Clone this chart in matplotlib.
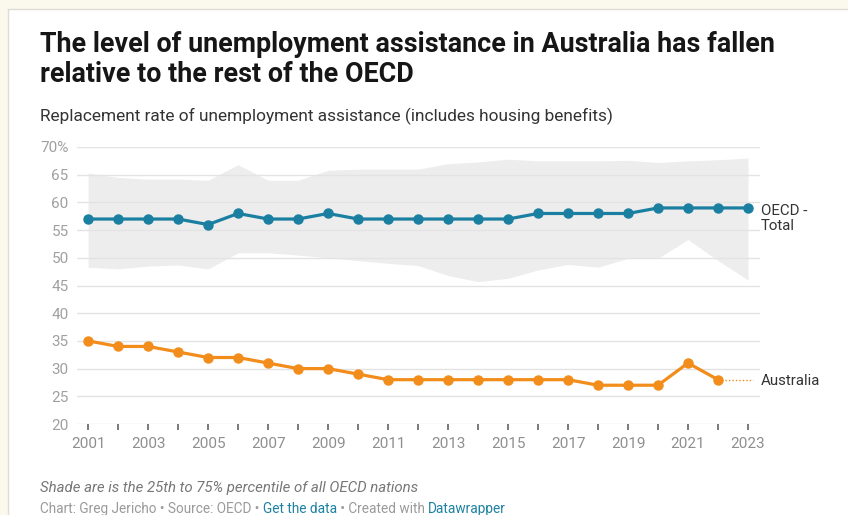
import matplotlib
matplotlib.use('Agg')
import matplotlib.pyplot as plt
from matplotlib.patches import Rectangle

plt.rcParams['font.family'] = ['Roboto', 'DejaVu Sans']

# data
years = list(range(2001, 2024))
oecd_total = [57, 57, 57, 57, 56, 58, 57, 57, 58, 57, 57, 57, 57, 57, 57, 58, 58, 58, 58, 59, 59, 59, 59]
band_low = [48.3, 48.0, 48.5, 48.7, 48.0, 50.9, 50.9, 50.5, 50.0, 49.5, 49.0, 48.6, 46.8, 45.7, 46.3, 47.8, 48.8, 48.3, 49.9, 49.9, 53.3, 49.5, 46.0]
band_high = [65.3, 64.5, 64.2, 64.2, 64.0, 66.8, 64.0, 64.0, 65.8, 66.0, 66.0, 66.0, 67.0, 67.3, 67.8, 67.5, 67.5, 67.5, 67.6, 67.2, 67.5, 67.7, 68.0]
aus_years = list(range(2001, 2023))
australia = [35, 34, 34, 33, 32, 32, 31, 30, 30, 29, 28, 28, 28, 28, 28, 28, 28, 27, 27, 27, 31, 28]
y_ticks = [20, 25, 30, 35, 40, 45, 50, 55, 60, 65, 70]
y_labels = ['20', '25', '30', '35', '40', '45', '50', '55', '60', '65', '70%']
x_labels = [str(y) if y % 2 == 1 else '' for y in years]

teal = '#1a7fa0'
orange = '#f28c1b'
W, H = 848, 515

fig = plt.figure(figsize=(W / 100, H / 100), dpi=100, facecolor='#fbf9ee')
# white card with light border
fig.patches.append(Rectangle((8 / W, -0.01), 1, 1.01 - 9 / H, transform=fig.transFigure,
                             facecolor='white', edgecolor='#dedcd4', linewidth=1, zorder=-5))

ax = fig.add_axes([77 / W, (H - 424) / H, 683 / W, 277 / H])
ax.set_facecolor('none')
ax.set_xlim(2000.63, 2023.4)
ax.set_ylim(20, 70)

ax.fill_between(years, band_low, band_high, color='#ededed', linewidth=0, zorder=1)
for y in y_ticks:
    ax.axhline(y, color='#e3e3e3', linewidth=1, zorder=2)

ax.plot(years, oecd_total, color=teal, linewidth=2.3, marker='o', markersize=6.5, zorder=4)
ax.plot(aus_years, australia, color=orange, linewidth=2.3, marker='o', markersize=6.5, zorder=4)
ax.plot([aus_years[-1], 2023.15], [australia[-1], australia[-1]], color=orange,
        linewidth=1, linestyle=(0, (1, 1.5)), zorder=3)

for s in ax.spines.values():
    s.set_visible(False)
ax.set_yticks(y_ticks)
ax.set_yticklabels(y_labels)
ax.set_xticks(years)
ax.set_xticklabels(x_labels)
ax.tick_params(axis='y', length=0, pad=6, labelsize=11, labelcolor='#a0a0a0')
ax.tick_params(axis='x', length=4.5, width=1.1, color='#555555', pad=5,
               labelsize=11, labelcolor='#8f8f8f')

ax.text(2023.43, oecd_total[-1] + 0.75, 'OECD -\nTotal', fontsize=10.8, color='#333333',
        va='top', ha='left', linespacing=1.15)
ax.text(2023.43, australia[-1] - 0.3, 'Australia', fontsize=10.8, color='#333333',
        va='center', ha='left')

fig.text(40 / W, 1 - 45 / H, 'The level of unemployment assistance in Australia has fallen',
         fontsize=19.4, fontweight='bold', color='#161616', va='center')
fig.text(40 / W, 1 - 74 / H, 'relative to the rest of the OECD',
         fontsize=19.4, fontweight='bold', color='#161616', va='center')
fig.text(40 / W, 1 - 116 / H,
         'Replacement rate of unemployment assistance (includes housing benefits)',
         fontsize=12.4, color='#333333', va='center')
fig.text(40 / W, 1 - 488 / H, 'Shade are is the 25th to 75% percentile of all OECD nations',
         fontsize=10.8, color='#777777', style='italic', va='center')

# credit line in pieces
parts = [('Chart: Greg Jericho • Source: OECD • ', '#9a9a9a'), ('Get the data', '#1d81a2'),
         (' • Created with ', '#9a9a9a'), ('Datawrapper', '#1d81a2')]
fig.canvas.draw()
x = 40 / W
for txt, col in parts:
    t = fig.text(x, 1 - 509 / H, txt, fontsize=9.8, color=col, va='center')
    bb = t.get_window_extent(renderer=fig.canvas.get_renderer())
    x += bb.width / W

fig.savefig('out.png', dpi=100, facecolor=fig.get_facecolor())
